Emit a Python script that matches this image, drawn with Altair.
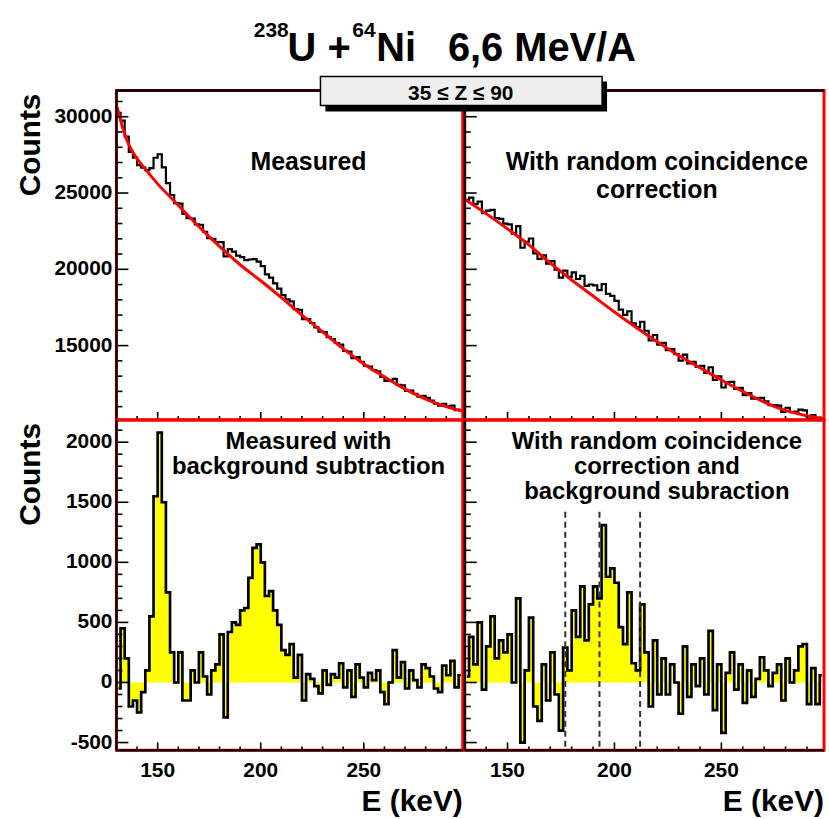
import altair as alt
import pandas as pd

FONT = "Liberation Sans"

# ---------------- data ----------------
# bin centres (keV), 2 keV bins from 130 to 298
energy = list(range(131, 298, 2))

# top-left: measured counts
tl_counts = [30250, 29750, 28700, 27700, 27320, 26830, 26660, 26500, 26630, 27310,
             27540, 26680, 25650, 24870, 24340, 24310, 23630, 23350, 23320, 22940,
             22920, 22460, 22050, 21990, 21780, 21780, 20850, 21320, 21160, 20900,
             20795, 20605, 20645, 20665, 20505, 20210, 19670, 19460, 19080, 18730,
             18305, 18035, 17895, 17385, 17345, 16740, 16740, 16480, 16200, 15920,
             15890, 15550, 15420, 15170, 15070, 14660, 14600, 14180, 14250, 13940,
             13675, 13625, 13395, 13305, 12955, 12690, 12710, 12820, 12430, 12400,
             12035, 12055, 11845, 11655, 11715, 11570, 11400, 11200, 11070, 11190,
             11020, 11070, 10770, 10800]

# top-right: with random coincidence correction
tr_counts = [24555, 24695, 24275, 24435, 23685, 23850, 23900, 23350, 23300, 23000,
             22945, 22335, 22825, 21415, 21805, 22020, 21040, 20680, 20910, 20370,
             20540, 19970, 19450, 19920, 19510, 19795, 19365, 19575, 18915, 19005,
             18945, 18635, 19035, 18395, 18255, 17930, 17360, 17020, 17250, 16460,
             16205, 16565, 15975, 15335, 15695, 15060, 15180, 14700, 14770, 14440,
             14010, 14410, 13830, 13940, 13600, 13670, 13210, 13580, 12760, 12980,
             12255, 12605, 12625, 12165, 12225, 11760, 11890, 11530, 11540, 11580,
             11345, 11105, 11105, 11065, 10655, 10915, 10645, 10675, 10805, 10755,
             10195, 10445, 10095, 10285]

# bottom-left: measured with background subtraction
bl_counts = [-50, 450, 200, -200, -150, -250, -80, 100, 550, 1550,
             2080, 1500, 750, 250, 0, 250, -150, -150, 100, 0,
             250, 50, -100, 100, 150, 400, -290, 420, 500, 480,
             600, 620, 870, 1120, 1150, 1000, 720, 760, 600, 480,
             270, 230, 320, 40, 230, -150, 70, 30, -30, -90,
             100, -20, 70, 40, 160, -40, 100, -120, 150, 40,
             -40, 80, 20, 100, -80, -180, 0, 270, 40, 170,
             -50, 100, 20, -40, 150, 120, 50, -50, -80, 140,
             60, 180, -40, 60]

# bottom-right: random coincidence correction and background subtraction
br_counts = [50, 380, 150, 500, -60, 300, 550, 200, 350, 250,
             400, 0, 700, -500, 100, 540, -200, -320, 150, -150,
             250, -100, -400, 290, 100, 600, 380, 800, 350, 650,
             800, 700, 1310, 880, 950, 830, 460, 320, 750, 160,
             100, 650, 250, -200, 350, -100, 200, -100, 150, 0,
             -260, 300, -120, 150, -30, 200, -100, 430, -230, 150,
             -420, 80, 250, -60, 150, -170, 100, -120, 30, 210,
             100, -30, 80, 150, -150, 200, 0, 100, 300, 320,
             -180, 120, -180, 60]

# background fits (red curves), read at knots
tl_fit_E = [130, 131, 133, 135, 137, 140, 145, 150, 160, 170, 180, 190, 200, 210,
            220, 230, 240, 250, 260, 270, 280, 290, 298]
tl_fit = [30750, 30300, 29300, 28500, 27900, 27250, 26400, 25600, 24200, 22800, 21500,
          20300, 19250, 18150, 17000, 15900, 14800, 13800, 12950, 12150, 11500, 11000, 10700]
tr_fit_E = [130, 140, 150, 160, 170, 180, 190, 200, 210, 220, 230, 240, 250, 260,
            270, 280, 290, 298]
tr_fit = [24600, 23650, 22650, 21600, 20400, 19300, 18250, 17200, 16200, 15250, 14350,
          13550, 12750, 12000, 11300, 10750, 10400, 10200]

# integration window (dashed lines) in bottom-right panel
window_E = [177, 193, 212]
window_top = 1420

# axes
x_domain = [130, 298]
x_major = [150, 200, 250]
x_major_labels = ["150", "200", "250"]
x_minor = [140, 160, 170, 180, 190, 210, 220, 230, 240, 260, 270, 280, 290]
top_domain = [10127, 31716]
top_major = [15000, 20000, 25000, 30000]
top_major_labels = ["15000", "20000", "25000", "30000"]
top_minor = [11000, 12000, 13000, 14000, 16000, 17000, 18000, 19000, 21000, 22000,
             23000, 24000, 26000, 27000, 28000, 29000, 31000]
bot_domain = [-565, 2185]
bot_major = [-500, 0, 500, 1000, 1500, 2000]
bot_major_labels = ["-500", "0", "500", "1000", "1500", "2000"]
bot_minor = [-400, -300, -200, -100, 100, 200, 300, 400, 600, 700, 800, 900, 1100,
             1200, 1300, 1400, 1600, 1700, 1800, 1900, 2100]

y_title = "Counts"
x_title = "E (keV)"
title_parts = ["238", "U +", "64", "Ni", "6,6 MeV/A"]
zrange = "35 \u2264 Z \u2264 90"

# ---------------- layout ----------------
WL, WR = 348, 361
HT, HB = 331, 332
PAGE_W, PAGE_H = 829, 819
OX, OY = 115, 87          # page position of the first panel

one = pd.DataFrame({"a": [0]})


def txt(s, x, y, size, align="center", baseline="alphabetic", angle=0, lh=None):
    kw = dict(font=FONT, fontSize=size, fontWeight="bold", color="black",
              align=align, baseline=baseline)
    if angle:
        kw["angle"] = angle
    if lh:
        kw["lineBreak"] = "\n"
        kw["lineHeight"] = lh
    return alt.Chart(pd.DataFrame({"t": [s]})).mark_text(**kw).encode(
        text="t:N", x=alt.value(x), y=alt.value(y))


def rule(x, x2, y, y2, width=2.0, color="black"):
    return alt.Chart(one).mark_rule(color=color, strokeWidth=width).encode(
        x=alt.value(x), x2=alt.value(x2), y=alt.value(y), y2=alt.value(y2))


def panel(counts, w, h, ydom, ymaj, ymaj_lab, ymin, bottom, left, label, ly, lh, lsize,
          fit_E=None, fit=None, extra=()):
    xsc = alt.Scale(domain=x_domain, nice=False, zero=False)
    ysc = alt.Scale(domain=ydom, nice=False, zero=False)
    df = pd.DataFrame({"E": energy, "c": counts})
    layers = []
    if bottom:
        layers.append(alt.Chart(df).mark_area(interpolate="step", color="#ffff00",
                                               clip=True).encode(
            x=alt.X("E:Q", scale=xsc, axis=None),
            y=alt.Y("c:Q", scale=ysc, axis=None),
            y2=alt.datum(0)))
    layers.append(alt.Chart(df).mark_line(interpolate="step", color="black",
                                          strokeWidth=2.7 if bottom else 2.2,
                                          clip=True).encode(
        x=alt.X("E:Q", scale=xsc, axis=None),
        y=alt.Y("c:Q", scale=ysc, axis=None)))
    if fit is not None:
        fdf = pd.DataFrame({"E": fit_E, "f": fit})
        layers.append(alt.Chart(fdf).mark_line(interpolate="monotone", color="#ff0000",
                                               strokeWidth=3, clip=True).encode(
            x=alt.X("E:Q", scale=xsc, axis=None),
            y=alt.Y("f:Q", scale=ysc, axis=None)))
    # frame lines (ROOT style axes)
    layers.append(rule(0, 0, 0, h, 2.2))
    layers.append(rule(0, w, h, h, 2.2))
    if not bottom:
        layers.append(rule(0, w, 0, 0, 2.5))
    # inward ticks
    for vals, ln in ((ymaj, 12), (ymin, 6)):
        layers.append(alt.Chart(pd.DataFrame({"v": vals})).mark_rule(
            color="black", strokeWidth=1.6).encode(
            y=alt.Y("v:Q", scale=ysc, axis=None),
            x=alt.value(0), x2=alt.value(ln)))
    for vals, ln in ((x_major, 8), (x_minor, 4)):
        layers.append(alt.Chart(pd.DataFrame({"v": vals})).mark_rule(
            color="black", strokeWidth=1.6).encode(
            x=alt.X("v:Q", scale=xsc, axis=None),
            y=alt.value(h), y2=alt.value(h - ln)))
    # tick labels and axis titles
    if left:
        layers.append(alt.Chart(pd.DataFrame({"v": ymaj, "lab": ymaj_lab})).mark_text(
            font=FONT, fontSize=21, fontWeight="bold", color="black", align="right",
            baseline="middle").encode(
            y=alt.Y("v:Q", scale=ysc, axis=None), x=alt.value(-4), text="lab:N"))
        layers.append(txt(y_title, -77, 3, 30, align="right", angle=270))
    if bottom:
        layers.append(alt.Chart(pd.DataFrame({"v": x_major, "lab": x_major_labels})).mark_text(
            font=FONT, fontSize=21, fontWeight="bold", color="black", align="center",
            baseline="alphabetic").encode(
            x=alt.X("v:Q", scale=xsc, axis=None), y=alt.value(h + 27), text="lab:N"))
        layers.append(txt(x_title, w, h + 61, 30, align="right"))
    layers.append(txt(label, 193, ly, lsize, lh=lh))
    layers.extend(extra)
    return alt.layer(*layers).properties(width=w, height=h)


# invisible extent markers: fix the page frame around the panels
frame_tl = alt.Chart(one).mark_rect(opacity=0).encode(
    x=alt.value(-OX), x2=alt.value(0), y=alt.value(-OY), y2=alt.value(0))
frame_br = alt.Chart(one).mark_rect(opacity=0).encode(
    x=alt.value(0), x2=alt.value(PAGE_W - OX - WL - 2), y=alt.value(0),
    y2=alt.value(PAGE_H - OY - HT))

# dashed window lines for bottom-right
win = alt.Chart(pd.DataFrame({"E": window_E})).mark_rule(
    color="#333333", strokeWidth=2, strokeDash=[6, 4]).encode(
    x=alt.X("E:Q", scale=alt.Scale(domain=x_domain, nice=False, zero=False), axis=None),
    y=alt.datum(window_top), y2=alt.value(HB))

# title + Z-range box, drawn from the top-right panel (coordinates relative to it)
header = [
    txt(title_parts[0], -212, -54, 21, align="left"),
    txt(title_parts[1], -178, -30, 40, align="left"),
    txt(title_parts[2], -113, -54, 21, align="left"),
    txt(title_parts[3], -89, -30, 40, align="left"),
    txt(title_parts[4], 172, -30, 40, align="right"),
    alt.Chart(one).mark_rect(color="black").encode(
        x=alt.value(-140), x2=alt.value(143), y=alt.value(-9), y2=alt.value(21)),
    alt.Chart(one).mark_rect(fill="#eeeeee", stroke="black", strokeWidth=1.5).encode(
        x=alt.value(-145), x2=alt.value(138), y=alt.value(-14), y2=alt.value(15)),
    txt(zrange, -4, 9, 21),
]

tl = panel(tl_counts, WL, HT, top_domain, top_major, top_major_labels, top_minor,
           False, True, "Measured", 80, 28, 25, tl_fit_E, tl_fit, extra=[frame_tl])
tr = panel(tr_counts, WR, HT, top_domain, top_major, top_major_labels, top_minor,
           False, False, "With random coincidence\ncorrection", 80, 28, 25,
           tr_fit_E, tr_fit, extra=header)
bl = panel(bl_counts, WL, HB, bot_domain, bot_major, bot_major_labels, bot_minor,
           True, True, "Measured with\nbackground subtraction", 29, 25, 24)
br = panel(br_counts, WR, HB, bot_domain, bot_major, bot_major_labels, bot_minor,
           True, False, "With random coincidence\ncorrection and\nbackground subraction",
           29, 25, 24, extra=[win, frame_br])

chart = alt.concat(tl, tr, bl, br, columns=2, spacing={"row": 0, "column": 2},
                   bounds="flush").properties(
    padding={"left": 0, "top": 0, "right": 0, "bottom": 0}
).configure(background="white").configure_view(stroke="#ff0000", strokeWidth=3)

chart.save("out.html", embed_options={"renderer": "svg", "actions": False})
